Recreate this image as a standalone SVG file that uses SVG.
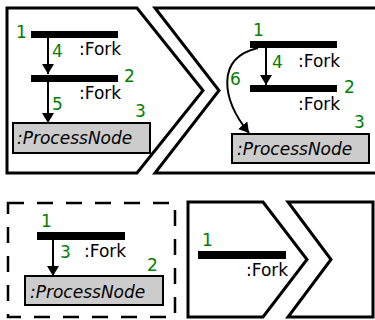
<svg xmlns="http://www.w3.org/2000/svg" width="375" height="320" viewBox="0 0 375 320">
<style>
.frame{fill:none;stroke:#000;stroke-width:3;stroke-linejoin:miter}
.dashed{fill:none;stroke:#000;stroke-width:2.5;stroke-dasharray:16 13}
.bar{fill:#000}
.node{fill:#cccccc;stroke:#000;stroke-width:2}
.lbl{font-family:"DejaVu Sans",sans-serif;font-size:17px;fill:#000}
.pn{font-family:"DejaVu Sans",sans-serif;font-size:17px;font-style:italic;fill:#000}
.num{font-family:"DejaVu Sans",sans-serif;font-size:17px;fill:#008000}
.edge{fill:none;stroke:#000;stroke-width:2}
</style>
<defs>
<marker id="arr" markerUnits="userSpaceOnUse" markerWidth="10" markerHeight="12" refX="10" refY="6" orient="auto">
<path d="M0,0 L10,6 L0,12 z" fill="#000"/>
</marker>
</defs>
<g id="frames">
<path class="frame" d="M7,8 L137,8 L203,90.5 L137,173 L7,173 Z"/>
<path class="frame" d="M380,8 L155,8 L219,90.5 L155,173 L380,173"/>
<rect class="dashed" x="8" y="203" width="167" height="114"/>
<path class="frame" d="M188,202 L263,202 L307,259.5 L263,317 L188,317 Z"/>
<path class="frame" d="M373,202 L288,202 L331,259.5 L288,317 L373,317 Z"/>
</g>
<g id="connectors">
<line class="edge" x1="48" y1="38" x2="48" y2="74" marker-end="url(#arr)"/>
<line class="edge" x1="48" y1="82" x2="48" y2="123" marker-end="url(#arr)"/>
<line class="edge" x1="266" y1="48" x2="266" y2="85" marker-end="url(#arr)"/>
<path class="edge" d="M258,48 C215,58 222,100 249,133" marker-end="url(#arr)"/>
<line class="edge" x1="53" y1="240" x2="53" y2="276" marker-end="url(#arr)"/>
<text class="num" x="52" y="57">4</text>
<text class="num" x="52" y="110">5</text>
<text class="num" x="272" y="68">4</text>
<text class="num" x="230" y="85">6</text>
<text class="num" x="60" y="258">3</text>
</g>
<g id="tl-fork1">
<rect class="bar" x="31" y="31" width="87" height="7"/>
<text class="num" x="16" y="38">1</text>
<text class="lbl" x="79" y="55">:Fork</text>
</g>
<g id="tl-fork2">
<rect class="bar" x="31" y="75" width="87" height="7"/>
<text class="num" x="124" y="82">2</text>
<text class="lbl" x="79" y="99">:Fork</text>
</g>
<g id="tl-process">
<rect class="node" x="13" y="123" width="137" height="30"/>
<text class="num" x="135" y="117">3</text>
<text class="pn" x="17" y="144">:ProcessNode</text>
</g>
<g id="tr-fork1">
<rect class="bar" x="250" y="41" width="87" height="7"/>
<text class="num" x="253" y="36">1</text>
<text class="lbl" x="298" y="67">:Fork</text>
</g>
<g id="tr-fork2">
<rect class="bar" x="250" y="85" width="87" height="7"/>
<text class="num" x="344" y="93">2</text>
<text class="lbl" x="298" y="110">:Fork</text>
</g>
<g id="tr-process">
<rect class="node" x="232" y="134" width="137" height="29"/>
<text class="num" x="354" y="128">3</text>
<text class="pn" x="237" y="155">:ProcessNode</text>
</g>
<g id="bl-fork">
<rect class="bar" x="37" y="232" width="88" height="8"/>
<text class="num" x="41" y="227">1</text>
<text class="lbl" x="84" y="257">:Fork</text>
</g>
<g id="bl-process">
<rect class="node" x="25" y="276" width="138" height="29"/>
<text class="num" x="147" y="271">2</text>
<text class="pn" x="30" y="298">:ProcessNode</text>
</g>
<g id="bm-fork">
<rect class="bar" x="198" y="251" width="88" height="8"/>
<text class="num" x="202" y="246">1</text>
<text class="lbl" x="246" y="276">:Fork</text>
</g>
</svg>
